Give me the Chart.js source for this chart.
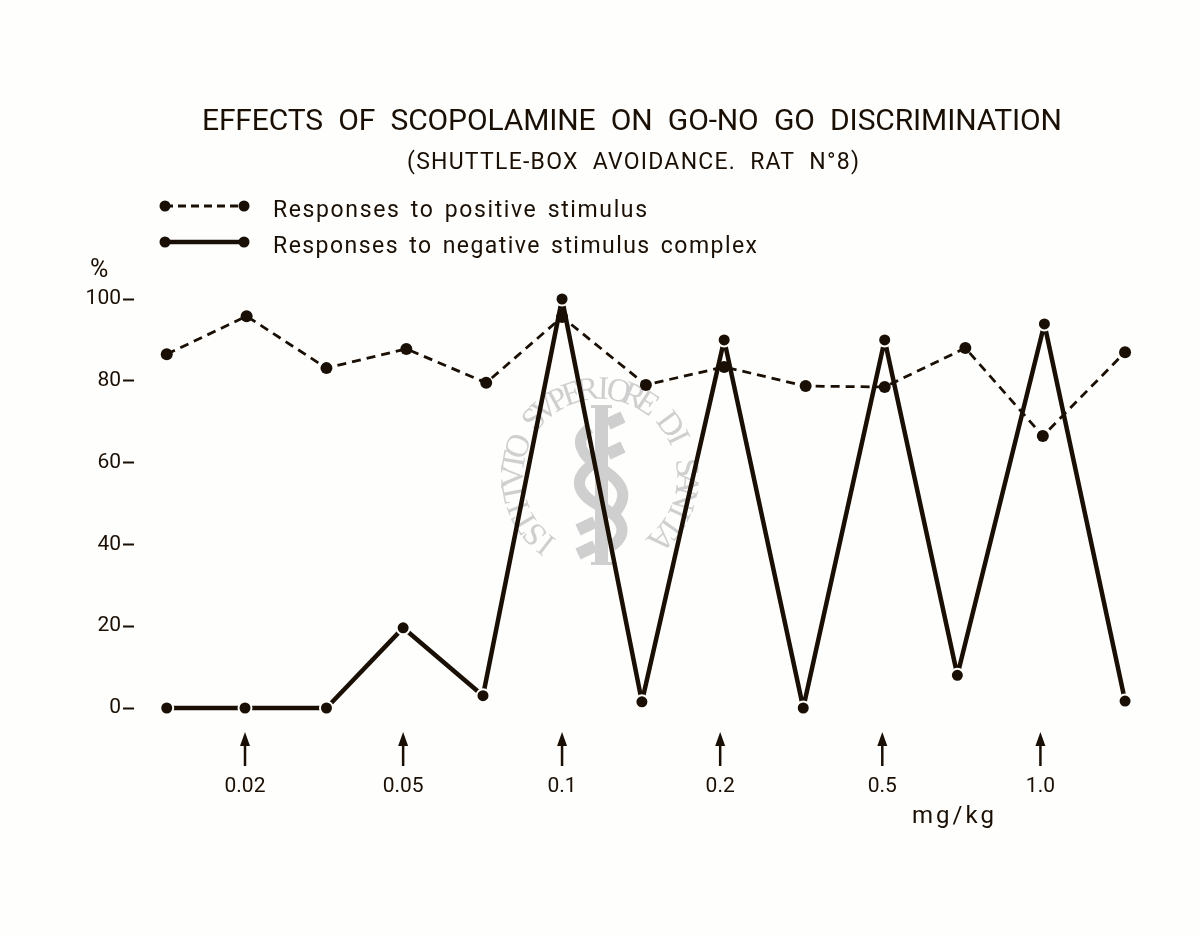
<!DOCTYPE html>
<html>
<head>
<meta charset="utf-8">
<title>Effects of scopolamine</title>
<script src="https://cdn.jsdelivr.net/npm/chart.js@4/dist/chart.umd.min.js"></script>
<style>
  html, body { margin: 0; padding: 0; background: #fefefc; }
  #wrap { width: 1200px; height: 938px; }
</style>
</head>
<body>
<div id="wrap"><canvas id="chart" width="1200" height="938"></canvas></div>
<script>
// values, x is the session number
const positiveX = [1, 2, 3, 4, 5, 5.95, 7, 7.98, 9, 9.99, 11, 11.97, 13];
const positiveY = [86.5, 95.8, 83.1, 87.8, 79.5, 95.6, 79, 83.4, 78.7, 78.5, 88, 66.5, 87];
const negativeX = [1, 1.98, 3, 3.96, 4.96, 5.95, 6.95, 7.98, 8.97, 9.99, 10.9, 11.99, 13];
const negativeY = [0, 0, 0, 19.6, 3, 100, 1.5, 90, 0, 90, 8, 93.9, 1.7];
const doseSessions = [1.98, 3.96, 5.95, 7.93, 9.96, 11.94];
const doseLabels = ['0.02', '0.05', '0.1', '0.2', '0.5', '1.0'];
const yTicks = [0, 20, 40, 60, 80, 100];
const seriesNames = ['Responses to positive stimulus', 'Responses to negative stimulus complex'];
const titleText = 'EFFECTS OF SCOPOLAMINE ON GO-NO GO DISCRIMINATION';
const subtitleText = '(SHUTTLE-BOX AVOIDANCE. RAT N°8)';

const ink = '#1a0f04';
const stamp = '#cfcfcf';

// fits a line of text to a given width with letter spacing
function fitText(ctx, text, x, y, width, font, wordGap) {
  ctx.save();
  ctx.font = font;
  ctx.fillStyle = ink;
  ctx.textAlign = 'left';
  ctx.textBaseline = 'alphabetic';
  ctx.wordSpacing = (wordGap || 0) + 'px';
  const plain = ctx.measureText(text).width;
  ctx.letterSpacing = ((width - plain) / (text.length - 1)) + 'px';
  ctx.fillText(text, x, y);
  ctx.restore();
}

// the institute stamp behind the curves
const stampPlugin = {
  id: 'stamp',
  beforeDatasetsDraw(chart) {
    const ctx = chart.ctx;
    const text = 'ISTITVTO SVPERIORE DI SANITA';
    const cx = 600, cy = 476, r = 77;
    const start = -142, end = 136;
    ctx.save();
    ctx.fillStyle = stamp;
    ctx.strokeStyle = stamp;
    ctx.font = '33px "Liberation Serif"';
    ctx.textAlign = 'center';
    ctx.textBaseline = 'alphabetic';
    for (let i = 0; i < text.length; i++) {
      const a = (start + (end - start) * i / (text.length - 1)) * Math.PI / 180;
      ctx.save();
      ctx.translate(cx, cy);
      ctx.rotate(a);
      ctx.fillText(text[i], 0, -r);
      ctx.restore();
    }
    // rod
    ctx.fillRect(595, 407, 13, 156);
    ctx.fillRect(591, 405, 21, 3);
    ctx.fillRect(591, 562, 21, 3);
    // snake
    ctx.lineWidth = 12;
    ctx.beginPath();
    ctx.moveTo(623, 417);
    ctx.lineTo(608, 424);
    ctx.moveTo(623, 447);
    ctx.lineTo(608, 454);
    ctx.moveTo(595, 522);
    ctx.lineTo(578, 530);
    ctx.moveTo(595, 546);
    ctx.lineTo(578, 554);
    ctx.stroke();
    ctx.lineWidth = 11;
    ctx.beginPath();
    ctx.moveTo(590, 428);
    ctx.bezierCurveTo(572, 440, 582, 456, 600, 468);
    ctx.bezierCurveTo(628, 484, 628, 500, 612, 516);
    ctx.moveTo(590, 466);
    ctx.bezierCurveTo(572, 480, 578, 495, 600, 506);
    ctx.bezierCurveTo(628, 520, 626, 536, 612, 546);
    ctx.stroke();
    ctx.restore();
  }
};

// title, legend, arrows and the loose labels of the drawing
const notesPlugin = {
  id: 'notes',
  afterDraw(chart) {
    const ctx = chart.ctx;
    const x = chart.scales.x;
    fitText(ctx, titleText, 202, 130, 860, '30px Roboto', 8);
    fitText(ctx, subtitleText, 407, 169, 452, '23px Roboto', 7);
    fitText(ctx, seriesNames[0], 273, 217, 374, '23px Roboto', 3);
    fitText(ctx, seriesNames[1], 273, 253, 484, '23px Roboto', 3);
    fitText(ctx, '%', 90, 277, 26, '25px Roboto');
    fitText(ctx, 'mg/kg', 912, 823, 82, '24px Roboto');

    ctx.save();
    ctx.fillStyle = ink;
    ctx.strokeStyle = ink;
    // legend samples
    ctx.lineWidth = 2.8;
    ctx.setLineDash([8, 5]);
    ctx.beginPath();
    ctx.moveTo(165, 206);
    ctx.lineTo(244, 206);
    ctx.stroke();
    ctx.setLineDash([]);
    ctx.lineWidth = 4.5;
    ctx.beginPath();
    ctx.moveTo(165, 242);
    ctx.lineTo(244, 242);
    ctx.stroke();
    [[165, 206], [244, 206], [165, 242], [244, 242]].forEach(p => {
      ctx.beginPath();
      ctx.arc(p[0], p[1], 5.5, 0, Math.PI * 2);
      ctx.fill();
    });
    // dose arrows
    doseSessions.forEach(s => {
      const px = x.getPixelForValue(s);
      ctx.lineWidth = 2.5;
      ctx.beginPath();
      ctx.moveTo(px, 743);
      ctx.lineTo(px, 766);
      ctx.stroke();
      ctx.beginPath();
      ctx.moveTo(px, 732);
      ctx.lineTo(px - 5, 746);
      ctx.lineTo(px + 5, 746);
      ctx.closePath();
      ctx.fill();
    });
    ctx.restore();
  }
};

new Chart(document.getElementById('chart'), {
  type: 'line',
  data: {
    datasets: [{
      label: seriesNames[0],
      data: positiveX.map((v, i) => ({ x: v, y: positiveY[i] })),
      borderColor: ink,
      backgroundColor: ink,
      borderWidth: 2.8,
      borderDash: [9, 6],
      pointRadius: 6,
      pointBackgroundColor: ink,
      pointBorderWidth: 0,
      clip: false
    }, {
      label: seriesNames[1],
      data: negativeX.map((v, i) => ({ x: v, y: negativeY[i] })),
      borderColor: ink,
      backgroundColor: ink,
      borderWidth: 4.5,
      borderJoinStyle: 'bevel',
      pointRadius: 6.5,
      pointBackgroundColor: ink,
      pointBorderColor: '#fefefc',
      pointBorderWidth: 2,
      clip: false
    }]
  },
  options: {
    responsive: false,
    animation: false,
    layout: { padding: { top: 299, right: 35, bottom: 0, left: 0 } },
    plugins: { legend: { display: false }, tooltip: { enabled: false }, title: { display: false } },
    scales: {
      x: {
        type: 'linear',
        min: 0.59,
        max: 13.5,
        border: { display: false },
        grid: { display: false },
        afterBuildTicks(axis) { axis.ticks = doseSessions.map(v => ({ value: v })); },
        afterFit(axis) { axis.height = 230; },
        ticks: {
          autoSkip: false,
          maxRotation: 0,
          padding: 58,
          color: ink,
          font: { family: 'Roboto', size: 21 },
          callback: v => doseLabels[doseSessions.indexOf(v)]
        }
      },
      y: {
        min: 0,
        max: 100,
        border: { display: false },
        grid: { drawOnChartArea: false, drawTicks: true, tickLength: 11, tickColor: ink, tickWidth: 2 },
        afterBuildTicks(axis) { axis.ticks = yTicks.map(v => ({ value: v })); },
        afterFit(axis) { axis.width = 134; },
        ticks: {
          padding: 2,
          color: ink,
          font: { family: 'Roboto', size: 21 }
        }
      }
    }
  },
  plugins: [stampPlugin, notesPlugin]
});
</script>
</body>
</html>
